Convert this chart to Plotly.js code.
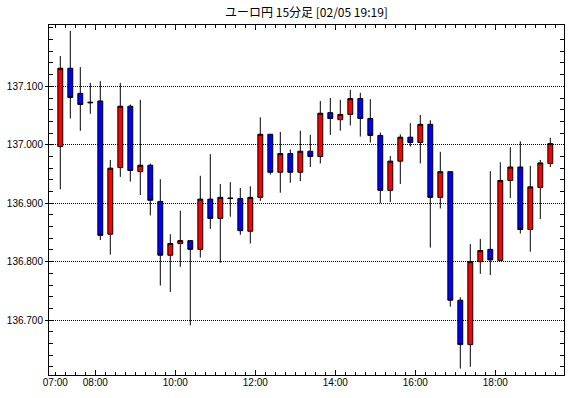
<!DOCTYPE html>
<html>
<head>
<meta charset="utf-8">
<script src="https://cdn.plot.ly/plotly-3.0.1.min.js"></script>
<style>html,body{margin:0;padding:0;background:#fff;}#chart{width:570px;height:398px;}</style>
</head>
<body>
<div id="chart"></div>
<script>
// 15-minute slots starting at 07:00 (candle start times)
var times = ["07:00","07:15","07:30","07:45","08:00","08:15","08:30","08:45","09:00","09:15",
             "09:30","09:45","10:00","10:15","10:30","10:45","11:00","11:15","11:30","11:45",
             "12:00","12:15","12:30","12:45","13:00","13:15","13:30","13:45","14:00","14:15",
             "14:30","14:45","15:00","15:15","15:30","15:45","16:00","16:15","16:30","16:45",
             "17:00","17:15","17:30","17:45","18:00","18:15","18:30","18:45","19:00","19:15"];
var openP  = [136.997,137.131,137.088,137.073,137.075,136.847,136.961,137.066,136.954,136.965,
              136.903,136.811,136.831,136.836,136.821,136.907,136.874,136.909,136.908,136.852,
              136.910,137.018,136.953,136.985,136.953,136.989,136.980,137.055,137.043,137.052,
              137.079,137.045,137.016,136.922,136.972,137.013,137.004,137.035,136.910,136.954,
              136.734,136.658,136.800,136.821,136.802,136.939,136.962,136.855,136.927,136.968];
var highP  = [137.152,137.195,137.133,137.106,137.109,136.974,137.106,137.069,137.077,136.968,
              136.941,136.847,136.887,136.836,136.947,136.984,136.933,136.936,136.926,136.929,
              137.047,137.018,137.022,136.992,137.024,137.017,137.075,137.080,137.077,137.094,
              137.089,137.078,137.021,136.981,137.018,137.037,137.051,137.042,136.988,136.954,
              136.739,136.830,136.839,136.955,136.970,136.996,137.006,136.964,136.974,137.012];
var lowP   = [136.924,137.045,137.024,137.053,136.837,136.812,136.945,136.937,136.914,136.879,
              136.759,136.748,136.791,136.691,136.807,136.856,136.798,136.877,136.846,136.831,
              136.904,136.949,136.918,136.935,136.938,136.962,136.968,137.017,137.024,137.033,
              137.014,137.004,136.900,136.902,136.933,136.997,136.968,136.824,136.891,136.723,
              136.617,136.620,136.779,136.777,136.802,136.909,136.848,136.817,136.873,136.962];
var closeP = [137.131,137.081,137.069,137.072,136.845,136.960,137.066,136.956,136.965,136.905,
              136.811,136.831,136.836,136.821,136.907,136.874,136.910,136.908,136.853,136.910,
              137.018,136.953,136.985,136.953,136.989,136.980,137.054,137.045,137.052,137.079,
              137.045,137.016,136.922,136.972,137.013,137.004,137.035,136.910,136.954,136.734,
              136.658,136.800,136.819,136.803,136.939,136.962,136.855,136.928,136.969,137.002];
var hourLabels = ["07:00","08:00","10:00","12:00","14:00","16:00","18:00"];
var priceTicks = [136.7, 136.8, 136.9, 137.0, 137.1];
var titleText = "ユーロ円 15分足 [02/05 19:19]";

function slotIndex(t){ return times.indexOf(t); }
var xs = times.map(function(t, i){ return i + 0.5; });
var labelVals = hourLabels.map(slotIndex);
var majorVals = labelVals.filter(function(v){ return v !== 0; });

var xr = [-0.63, 50.87];
var yr = [136.606, 137.205];
var tickFont = {family: "Liberation Sans, Arial, sans-serif", size: 10, color: "#000"};

var traces = [{
  type: "candlestick",
  x: xs, open: openP, high: highP, low: lowP, close: closeP,
  increasing: {line: {color: "#000", width: 1}, fillcolor: "#ff0000"},
  decreasing: {line: {color: "#000", width: 1}, fillcolor: "#0000ff"},
  whiskerwidth: 0,
  hoverinfo: "none",
  showlegend: false
}, {
  type: "scatter", x: [null], y: [null], xaxis: "x2", yaxis: "y2",
  showlegend: false, hoverinfo: "none"
}];

var layout = {
  width: 570, height: 398,
  margin: {l: 49, r: 6, t: 25, b: 23, pad: 0},
  paper_bgcolor: "#fff", plot_bgcolor: "#fff",
  showlegend: false,
  boxgap: 0.3,
  title: {text: titleText, x: 0.5, xref: "paper", xanchor: "center",
          y: 1 - 12.5/398, yref: "container", yanchor: "middle",
          font: {family: "Noto Sans CJK JP, sans-serif", size: 12, color: "#000"}},
  xaxis: {
    range: xr, type: "linear", fixedrange: true,
    rangeslider: {visible: false},
    showgrid: false, zeroline: false,
    showline: true, linecolor: "#000", linewidth: 1, mirror: "ticks",
    tickmode: "array", tickvals: majorVals, showticklabels: false,
    ticks: "inside", ticklen: 5, tickwidth: 1, tickcolor: "#000",
    minor: {ticks: "inside", tick0: 0, dtick: 1, ticklen: 3, tickwidth: 1, tickcolor: "#000", showgrid: false}
  },
  xaxis2: {
    range: xr, type: "linear", overlaying: "x", anchor: "y", side: "bottom", fixedrange: true,
    showgrid: false, zeroline: false, showline: false,
    tickmode: "array", tickvals: labelVals, ticktext: hourLabels,
    ticks: "", tickfont: tickFont
  },
  yaxis: {
    range: yr, type: "linear", fixedrange: true,
    showline: true, linecolor: "#000", linewidth: 1, mirror: true,
    zeroline: false,
    tickmode: "array", tickvals: priceTicks, tickformat: ".3f",
    ticks: "outside", ticklen: 3, tickwidth: 1, tickcolor: "#000",
    tickfont: tickFont,
    showgrid: true, gridcolor: "#000", gridwidth: 1, griddash: "1px,1px",
    minor: {ticks: "inside", tick0: 136.7, dtick: 0.02, ticklen: 4, tickwidth: 1, tickcolor: "#000", showgrid: false}
  },
  yaxis2: {
    range: yr, type: "linear", overlaying: "y", side: "right", anchor: "x", fixedrange: true,
    showline: false, zeroline: false, showgrid: false, showticklabels: false,
    tick0: 136.7, dtick: 0.1, ticks: "",
    minor: {ticks: "inside", tick0: 136.7, dtick: 0.02, ticklen: 4, tickwidth: 1, tickcolor: "#000", showgrid: false}
  }
};

Plotly.newPlot("chart", traces, layout, {displayModeBar: false, staticPlot: true});
</script>
</body>
</html>
